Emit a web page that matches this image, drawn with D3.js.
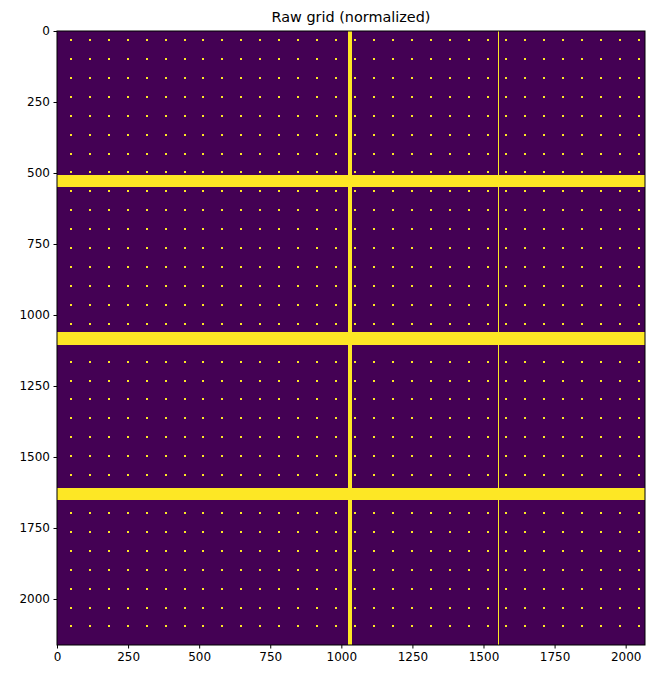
<!DOCTYPE html><html><head><script src="https://d3js.org/d3.v7.min.js"></script>
<style>body{margin:0;background:#fff}text{font-family:"DejaVu Sans",sans-serif}</style></head><body>
<script>
const xExtent=[0,2068], yExtent=[0,2162];
const ticks=[0,250,500,750,1000,1250,1500,1750,2000];
const dotCols=d3.range(49,2068,66.6); // grid column centres
const dotRows=d3.range(32,2162,66.6);
const hBands=[[507,549],[1060,1105],[1609,1651]];
const vLines=[[1025,1039],[1550,1554]];
const W=654,H=680;
const x=d3.scaleLinear().domain(xExtent).range([57,645]);
const y=d3.scaleLinear().domain(yExtent).range([31,645]);
const svg=d3.select("body").append("svg").attr("width",W).attr("height",H);
svg.append("rect").attr("x",x(0)).attr("y",y(0)).attr("width",x(2068)-x(0)).attr("height",y(2162)-y(0)).attr("fill","#440154");
const g=svg.append("g").attr("shape-rendering","crispEdges");
dotRows.forEach(r=>dotCols.forEach(c=>{
  g.append("rect").attr("x",Math.round(x(c)-1)).attr("y",Math.round(y(r)-1)).attr("width",2).attr("height",2).attr("fill","#fde725");
}));
hBands.forEach(b=>g.append("rect").attr("x",x(0)).attr("width",x(2068)-x(0)).attr("y",y(b[0])).attr("height",y(b[1])-y(b[0])).attr("fill","#fde725"));
vLines.forEach(b=>g.append("rect").attr("y",y(0)).attr("height",y(2162)-y(0)).attr("x",Math.round(x(b[0]))).attr("width",Math.max(1,Math.round(x(b[1])-x(b[0])))).attr("fill","#fde725"));
svg.append("rect").attr("x",x(0)).attr("y",y(0)).attr("width",x(2068)-x(0)).attr("height",y(2162)-y(0)).attr("fill","none").attr("stroke","#000").attr("stroke-width",1);
const fmt=d3.format("d");
svg.append("g").attr("transform",`translate(0,${y(2162)})`).call(d3.axisBottom(x).tickValues(ticks).tickFormat(fmt).tickSize(3.5).tickPadding(3.5)).call(a=>{a.select(".domain").remove();a.selectAll("text").attr("font-size",12).attr("fill","#000")});
svg.append("g").attr("transform",`translate(${x(0)},0)`).call(d3.axisLeft(y).tickValues(ticks).tickFormat(fmt).tickSize(3.5).tickPadding(3.5)).call(a=>{a.select(".domain").remove();a.selectAll("text").attr("font-size",12).attr("fill","#000")});
svg.append("text").attr("x",(x(0)+x(2068))/2).attr("y",22).attr("text-anchor","middle").attr("font-size",14.4).text("Raw grid (normalized)");
</script></body></html>
